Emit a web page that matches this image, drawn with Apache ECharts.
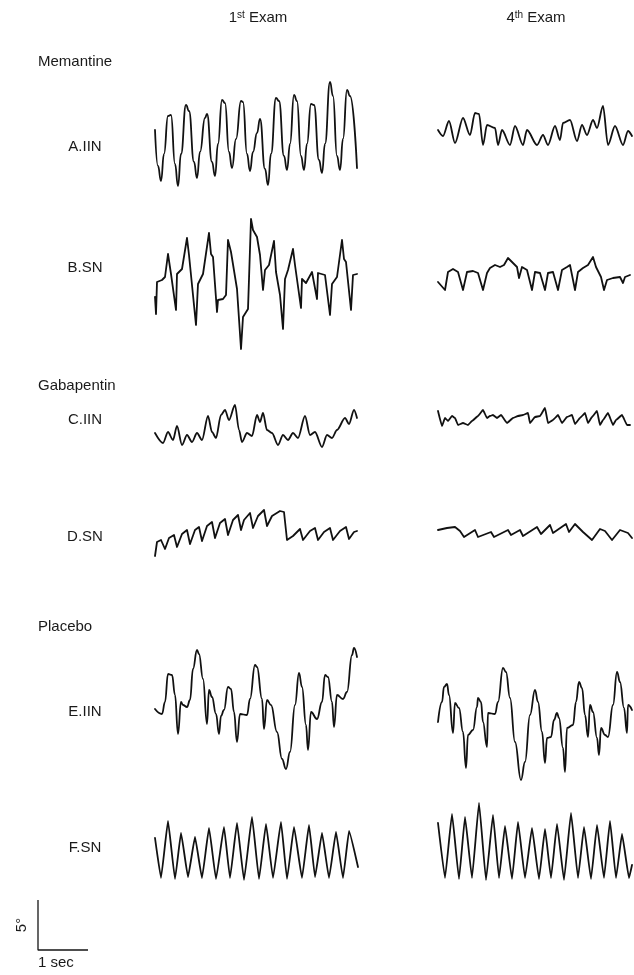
<!DOCTYPE html>
<html>
<head>
<meta charset="utf-8">
<script src="https://cdn.jsdelivr.net/npm/echarts@6/dist/echarts.min.js"></script>
<style>
  html, body { margin: 0; padding: 0; background: #ffffff; }
  #chart { width: 634px; height: 975px; }
</style>
</head>
<body>
<div id="chart"></div>
<script>
// Eye-position recordings. Each point is [sample index, position in degrees],
// samples taken at SAMPLE_RATE per second.
const SAMPLE_RATE = 50;

const EXAMS = [['1', 'st'], ['4', 'th']];
const GROUPS = ['Memantine', 'Gabapentin', 'Placebo'];
const ROWS = ['A.IIN', 'B.SN', 'C.IIN', 'D.SN', 'E.IIN', 'F.SN'];

// Scale bar: 5 degrees by 1 second
const SCALE_DEG = 5;
const SCALE_SEC = 1;

// Memantine
const A_EXAM1 = [[0,0.4],[3,-3.2],[6,-4.7],[9,-2.0],[13,1.8],[16,1.9],[20,-3.0],[23,-5.2],[26,-2.0],[31,2.9],[34,2.3],[39,-2.8],[42,-4.4],[45,-1.8],[50,1.6],[52,2.0],[57,-2.8],[60,-4.2],[63,-1.0],[67,3.4],[70,3.1],[74,-1.8],[77,-3.4],[81,-0.5],[86,3.3],[88,3.2],[92,-2.0],[95,-3.7],[98,-1.8],[102,0.1],[105,1.5],[110,-3.5],[113,-5.1],[116,-2.0],[121,3.6],[124,3.3],[129,-2.2],[132,-3.6],[135,-1.0],[139,3.9],[142,3.3],[146,-2.2],[149,-3.6],[152,-1.0],[156,3.0],[159,2.9],[164,-2.6],[167,-3.9],[170,-1.0],[175,5.2],[178,3.8],[182,-2.2],[185,-3.6],[188,-0.5],[192,4.4],[195,3.8],[202,-3.4]];
const A_EXAM4 = [[1,-0.5],[6,-1.1],[12,0.4],[18,-1.8],[26,0.7],[33,-1.0],[38,1.2],[42,1.1],[46,-2.0],[50,0.0],[58,-0.3],[61,-2.0],[65,-0.5],[73,-2.0],[78,-0.1],[86,-2.0],[90,-0.5],[100,-2.0],[106,-1.0],[111,-2.0],[118,-0.1],[123,-1.5],[126,0.2],[133,0.5],[140,-1.6],[145,0.0],[150,-1.0],[156,0.5],[160,-0.3],[166,1.9],[171,-2.0],[178,-0.1],[186,-2.0],[191,-0.6],[195,-1.1]];
const B_EXAM1 = [[0,-1.7],[1,-3.4],[2,-0.2],[7,0.0],[10,0.3],[13,2.6],[16,0.6],[18,0.5],[21,-3.0],[22,0.6],[27,1.1],[32,4.2],[34,2.5],[36,2.3],[41,-4.5],[43,-0.4],[48,0.6],[54,4.7],[56,2.6],[58,2.3],[62,-3.2],[63,-2.0],[68,-1.9],[71,-1.5],[73,4.0],[76,2.8],[82,-0.9],[86,-6.9],[88,-3.7],[93,-2.9],[96,6.1],[98,5.0],[102,4.3],[105,2.5],[108,-1.0],[110,1.0],[114,1.5],[119,3.9],[121,0.8],[125,-1.5],[128,-4.9],[130,0.1],[133,1.0],[138,3.1],[140,1.5],[142,1.3],[146,-2.8],[147,0.1],[151,-0.3],[157,0.8],[159,0.6],[162,-1.9],[163,0.7],[170,0.5],[175,-3.5],[177,-0.4],[182,0.3],[187,4.0],[189,2.1],[191,1.8],[196,-3.0],[198,0.5],[202,0.6]];
const B_EXAM4 = [[1,-0.7],[8,-1.5],[11,0.3],[16,0.6],[21,0.3],[26,-1.5],[30,0.3],[36,0.4],[41,0.2],[46,-1.5],[50,0.2],[53,0.7],[58,1.0],[63,0.8],[67,1.0],[71,1.7],[76,1.2],[80,0.8],[82,-0.3],[85,0.8],[90,0.5],[95,-1.5],[98,0.3],[103,0.2],[108,-1.5],[111,0.2],[116,0.3],[121,-1.5],[125,0.5],[130,0.8],[133,1.0],[138,-1.5],[141,0.3],[146,0.7],[151,1.0],[156,1.8],[159,0.8],[164,-0.2],[167,-1.5],[170,-0.5],[176,-0.3],[183,-0.2],[186,-0.8],[188,-0.2],[193,0.0]];

// Gabapentin
const C_EXAM1 = [[0,-0.3],[8,-1.3],[13,-0.2],[18,-1.0],[22,0.4],[27,-1.5],[32,-0.5],[37,-1.2],[42,-0.3],[47,-1.0],[53,1.4],[57,-0.2],[61,-0.8],[66,1.5],[70,2.0],[74,1.0],[80,2.5],[84,0.0],[87,-1.2],[92,-0.3],[97,-0.6],[102,1.5],[105,0.8],[108,1.7],[112,0.0],[117,-0.3],[123,-1.5],[128,-0.5],[133,-1.0],[138,-0.3],[143,-0.8],[150,1.4],[155,-0.5],[160,-0.2],[167,-1.7],[172,-0.5],[177,-0.8],[182,0.0],[190,1.2],[194,0.6],[199,2.0],[202,1.2]];
const C_EXAM4 = [[1,0.7],[5,-0.8],[8,0.0],[11,-0.3],[15,0.2],[18,0.0],[21,-0.7],[26,-0.5],[31,-0.7],[35,-0.3],[41,0.2],[46,0.8],[50,0.0],[53,0.2],[56,0.3],[60,0.0],[64,0.3],[70,-0.5],[76,0.0],[81,0.2],[86,0.3],[91,0.5],[93,-0.5],[98,0.1],[103,0.2],[108,1.0],[111,-0.5],[116,-0.2],[121,0.3],[125,-0.5],[130,0.1],[135,0.3],[138,-0.6],[143,0.0],[148,0.5],[151,-0.5],[155,0.1],[160,0.7],[163,-0.7],[166,-0.2],[171,0.5],[176,-0.7],[179,-0.2],[185,0.3],[190,-0.7],[193,-0.7]];
const D_EXAM1 = [[0,-2.1],[2,-0.7],[6,-0.5],[10,-1.4],[14,-0.3],[19,0.0],[22,-1.2],[27,0.1],[32,0.5],[35,-0.9],[40,0.5],[44,0.8],[47,-0.6],[52,0.9],[57,1.3],[60,-0.3],[65,1.2],[70,1.6],[73,0.0],[78,1.5],[83,2.0],[86,0.5],[89,1.5],[95,2.2],[98,0.7],[103,1.9],[109,2.5],[112,0.9],[117,1.9],[125,2.4],[129,2.3],[132,-0.5],[138,-0.1],[145,0.6],[148,-0.5],[155,0.4],[160,0.7],[163,-0.5],[169,0.3],[175,0.7],[178,-0.5],[185,0.4],[191,0.8],[194,-0.4],[199,0.3],[202,0.4]];
const D_EXAM4 = [[1,0.3],[10,0.5],[18,0.6],[23,0.2],[27,-0.4],[38,0.3],[41,-0.4],[54,0.1],[57,-0.4],[71,0.3],[74,-0.2],[83,0.3],[86,-0.3],[100,0.6],[104,-0.1],[113,0.8],[116,0.0],[129,0.9],[132,0.1],[138,0.9],[146,0.1],[155,-0.7],[163,0.4],[168,0.2],[175,-0.7],[183,0.3],[191,0.0],[195,-0.5]];

// Placebo
const E_EXAM1 = [[0,-0.1],[7,-0.6],[10,0.6],[13,3.4],[17,3.3],[20,1.3],[23,-2.6],[26,0.6],[28,0.3],[32,0.1],[35,0.8],[38,3.9],[42,5.8],[44,5.4],[48,2.9],[52,-1.6],[54,1.8],[57,1.1],[61,-0.6],[64,-2.6],[66,-0.8],[69,-0.2],[73,2.1],[76,1.9],[79,-0.4],[82,-3.4],[85,-0.6],[92,-0.7],[95,0.9],[100,4.3],[102,4.1],[107,0.9],[109,-2.1],[112,0.8],[116,0.3],[122,-2.4],[127,-5.1],[131,-6.1],[135,-4.4],[140,0.3],[144,3.5],[147,2.1],[151,-1.7],[153,-4.2],[156,-0.4],[162,-1.1],[167,0.6],[170,3.3],[173,3.1],[177,0.6],[179,-1.9],[182,1.3],[188,0.9],[192,1.6],[197,5.3],[199,6.0],[202,5.1]];
const E_EXAM4 = [[1,0.2],[5,2.2],[7,3.7],[10,4.0],[12,2.9],[16,-0.9],[18,2.1],[22,1.6],[26,-0.8],[29,-4.4],[31,-1.1],[36,-0.6],[40,1.7],[41,2.6],[44,2.2],[46,0.2],[50,-2.3],[51,1.1],[58,1.0],[61,2.2],[66,5.6],[69,5.2],[73,2.6],[78,-1.8],[84,-5.6],[88,-3.8],[93,0.9],[98,3.4],[101,2.2],[105,-0.8],[108,-3.9],[110,-1.4],[114,-1.3],[117,0.4],[120,1.1],[122,0.6],[126,-2.4],[128,-4.8],[130,-0.4],[136,-0.1],[139,2.2],[142,4.2],[145,3.6],[148,0.9],[151,-1.3],[153,1.9],[156,1.2],[160,-1.4],[162,-3.1],[164,-0.4],[168,-1.1],[171,-1.3],[176,1.9],[180,5.2],[183,4.2],[187,1.6],[190,-0.9],[191,1.9],[195,1.4]];
const F_EXAM1 = [[0,1.2],[6,-2.8],[13,2.9],[20,-2.9],[26,1.7],[33,-2.7],[40,1.3],[47,-2.8],[54,2.2],[61,-2.9],[69,2.3],[75,-2.8],[82,2.7],[89,-3.0],[97,3.3],[104,-2.9],[111,2.6],[118,-2.8],[126,2.8],[132,-2.9],[139,2.3],[147,-2.8],[154,2.5],[160,-2.7],[167,1.7],[174,-2.8],[181,1.8],[188,-2.8],[194,1.9],[203,-1.7]];
const F_EXAM4 = [[1,2.7],[8,-2.8],[15,3.6],[22,-2.9],[28,3.3],[35,-2.8],[42,4.7],[49,-3.0],[56,3.5],[62,-2.8],[68,2.4],[75,-2.9],[81,2.8],[88,-2.8],[95,2.2],[102,-2.9],[108,2.1],[114,-2.8],[120,2.6],[127,-3.0],[134,3.7],[141,-2.8],[147,2.3],[154,-2.9],[160,2.5],[167,-2.8],[173,2.9],[179,-2.8],[185,1.6],[192,-2.8],[195,-1.5]];

// ---- layout of the panels (pixels) ----
const PX_PER_SAMPLE = 1;      // 1 s = 50 px
const PX_PER_DEG = 10;        // 5 deg = 50 px
const COLUMN_LEFT = [155, 437];
const COLUMN_SPAN = [205, 197]; // samples shown per column
const PANEL_HALF = 80;          // half height of each panel in px

const traces = [
  { data: A_EXAM1, col: 0, cy: 134, smooth: 0.5 },
  { data: A_EXAM4, col: 1, cy: 125, smooth: 0.3 },
  { data: B_EXAM1, col: 0, cy: 280, smooth: 0 },
  { data: B_EXAM4, col: 1, cy: 275, smooth: 0 },
  { data: C_EXAM1, col: 0, cy: 430, smooth: 0.3 },
  { data: C_EXAM4, col: 1, cy: 418, smooth: 0.1 },
  { data: D_EXAM1, col: 0, cy: 535, smooth: 0 },
  { data: D_EXAM4, col: 1, cy: 533, smooth: 0 },
  { data: E_EXAM1, col: 0, cy: 708, smooth: 0.45 },
  { data: E_EXAM4, col: 1, cy: 724, smooth: 0.45 },
  { data: F_EXAM1, col: 0, cy: 850, smooth: 0.1 },
  { data: F_EXAM4, col: 1, cy: 850, smooth: 0.1 }
];

const grids = [], xAxes = [], yAxes = [], series = [];
const degHalf = PANEL_HALF / PX_PER_DEG;

traces.forEach((t, i) => {
  const span = COLUMN_SPAN[t.col];
  grids.push({ left: COLUMN_LEFT[t.col], top: t.cy - PANEL_HALF, width: span * PX_PER_SAMPLE, height: PANEL_HALF * 2 });
  xAxes.push({ type: 'value', gridIndex: i, min: 0, max: span, show: false });
  yAxes.push({ type: 'value', gridIndex: i, min: -degHalf, max: degHalf, show: false });
  series.push({
    type: 'line', xAxisIndex: i, yAxisIndex: i, data: t.data,
    showSymbol: false, symbol: 'none', smooth: t.smooth, smoothMonotone: 'x',
    clip: false, silent: true, animation: false,
    lineStyle: { color: '#111111', width: 1.8, join: 'round', cap: 'round' }
  });
});

// Scale bar panel
const sbIndex = traces.length;
const sbW = SCALE_SEC * SAMPLE_RATE * PX_PER_SAMPLE;
const sbH = SCALE_DEG * PX_PER_DEG;
grids.push({ left: 38, top: 950 - sbH, width: sbW, height: sbH });
xAxes.push({ type: 'value', gridIndex: sbIndex, min: 0, max: SCALE_SEC * SAMPLE_RATE, show: false });
yAxes.push({ type: 'value', gridIndex: sbIndex, min: 0, max: SCALE_DEG, show: false });
series.push({
  type: 'line', xAxisIndex: sbIndex, yAxisIndex: sbIndex,
  data: [[0, SCALE_DEG], [0, 0], [SCALE_SEC * SAMPLE_RATE, 0]],
  showSymbol: false, symbol: 'none', clip: false, silent: true, animation: false,
  lineStyle: { color: '#151515', width: 1.3 }
});

const FONT = '15px "Liberation Sans", Arial, Helvetica, sans-serif';
const txt = (text, x, y, align, extra) => Object.assign({
  type: 'text', x: x, y: y, silent: true,
  style: { text: text, font: FONT, fill: '#1a1a1a', align: align, verticalAlign: 'middle', textAlign: align, textVerticalAlign: 'middle' }
}, extra || {});

const examText = (e) => e[0] + '{sup|' + e[1] + '} Exam';
const supRich = { sup: { fontSize: 10, fontFamily: '"Liberation Sans", Arial, sans-serif', verticalAlign: 'top', lineHeight: 12, fill: '#1a1a1a' } };

const graphic = [];
[258, 536].forEach((x, i) => {
  const g = txt(examText(EXAMS[i]), x, 18, 'center');
  g.style.rich = supRich;
  graphic.push(g);
});
[62, 386, 627].forEach((y, i) => graphic.push(txt(GROUPS[i], 38, y, 'left')));
[147, 268, 420, 537, 712, 848].forEach((y, i) => graphic.push(txt(ROWS[i], 85, y, 'center')));
graphic.push(txt(SCALE_DEG + '°', 22, 925, 'center', { rotation: Math.PI / 2 }));
graphic.push(txt(SCALE_SEC + ' sec', 38, 963, 'left'));

const chart = echarts.init(document.getElementById('chart'), null, { renderer: 'canvas' });
chart.setOption({
  animation: false,
  backgroundColor: '#ffffff',
  grid: grids,
  xAxis: xAxes,
  yAxis: yAxes,
  series: series,
  graphic: graphic
});
</script>
</body>
</html>
